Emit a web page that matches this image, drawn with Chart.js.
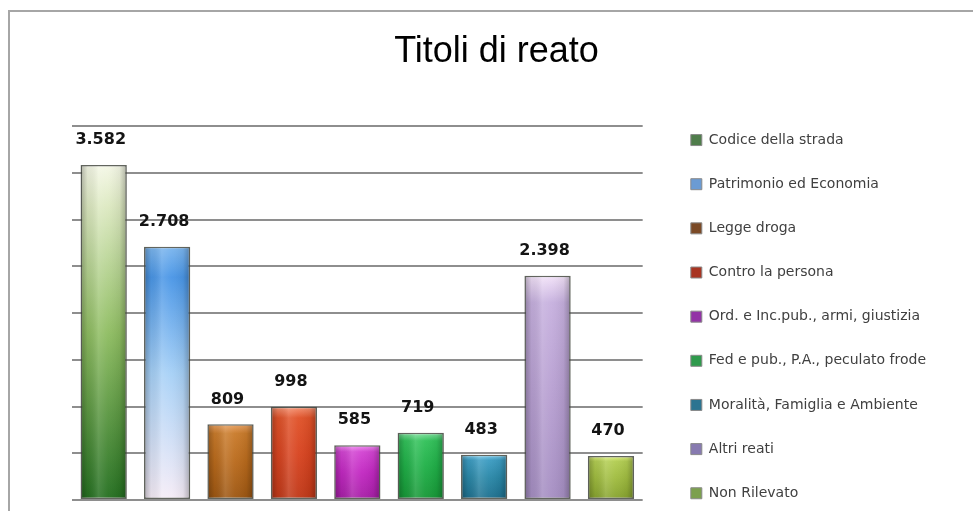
<!DOCTYPE html>
<html>
<head>
<meta charset="utf-8">
<script src="https://cdn.jsdelivr.net/npm/chart.js@4.4.1/dist/chart.umd.min.js"></script>
<style>
html,body{margin:0;padding:0;background:#fff;overflow:hidden;}
#wrap{position:relative;width:973px;height:511px;overflow:hidden;background:#fff;}
#c{position:absolute;left:0;top:0;}
#frame{position:absolute;left:8px;top:10px;width:1200px;height:900px;border-left:2px solid #a6a6a6;border-top:2px solid #a6a6a6;pointer-events:none;}
</style>
</head>
<body>
<div id="wrap"><canvas id="c" width="973" height="511"></canvas><div id="frame"></div></div>
<script>
// ---- data ----
const chartTitle = "Titoli di reato";
const categories = [
  "Codice della strada",
  "Patrimonio ed Economia",
  "Legge droga",
  "Contro la persona",
  "Ord. e Inc.pub., armi, giustizia",
  "Fed e pub., P.A., peculato frode",
  "Moralità, Famiglia e Ambiente",
  "Altri reati",
  "Non Rilevato"
];
const values = [3582, 2708, 809, 998, 585, 719, 483, 2398, 470];
const yMin = 0;
const yMax = 4000;
const yStep = 500;

// ---- styles ----
const barStops = [0, 0.12, 0.5, 1];
const barGradients = [
  ["#f4f7e6", "#dde9c2", "#8fbd62", "#246f20"],
  ["#7cb6ee", "#4a96e6", "#a6d0f6", "#f6ecf6"],
  ["#e9a263", "#c97b2b", "#b96a1c", "#9c5612"],
  ["#f59272", "#e05229", "#d84420", "#bf3818"],
  ["#f08ef0", "#d244d2", "#c228c2", "#a61fa6"],
  ["#84e2a2", "#32c15a", "#20b048", "#179737"],
  ["#82d0ef", "#3c9cc2", "#2a88a8", "#1e6f8e"],
  ["#f2e2f8", "#c6b0de", "#b8a0d2", "#a58ec2"],
  ["#e2f284", "#b2cd52", "#a0bc40", "#86a22e"]
];
const legendColors = ["#4f7d4b", "#6b9bd3", "#7b4a26", "#a83422", "#9333a6", "#2f9a4c", "#2c7491", "#877ab0", "#7ca04e"];

function fmt(v) {
  return String(v).replace(/\B(?=(\d{3})+(?!\d))/g, ".");
}

const barShade = {
  id: "barShade",
  afterDatasetsDraw(chart) {
    const ctx = chart.ctx;
    const meta = chart.getDatasetMeta(0);
    ctx.save();
    meta.data.forEach((bar) => {
      const left = bar.x - bar.width / 2 + 1;
      const right = bar.x + bar.width / 2 - 1;
      const g = ctx.createLinearGradient(left, 0, right, 0);
      g.addColorStop(0, "rgba(0,0,0,0.25)");
      g.addColorStop(0.14, "rgba(0,0,0,0.06)");
      g.addColorStop(0.38, "rgba(255,255,255,0.14)");
      g.addColorStop(0.6, "rgba(255,255,255,0.04)");
      g.addColorStop(0.86, "rgba(0,0,0,0.06)");
      g.addColorStop(1, "rgba(0,0,0,0.25)");
      ctx.fillStyle = g;
      ctx.fillRect(left, bar.y + 1, right - left, bar.base - bar.y - 2);
    });
    ctx.restore();
  }
};

const valueLabels = {
  id: "valueLabels",
  afterDatasetsDraw(chart) {
    const ctx = chart.ctx;
    const meta = chart.getDatasetMeta(0);
    ctx.save();
    ctx.font = 'bold 16px "DejaVu Sans"';
    ctx.fillStyle = "#141414";
    ctx.textAlign = "center";
    ctx.textBaseline = "middle";
    meta.data.forEach((bar, i) => {
      ctx.fillText(fmt(chart.data.datasets[0].data[i]), bar.x - 3, bar.y - 25);
    });
    ctx.restore();
  }
};

new Chart(document.getElementById("c"), {
  type: "bar",
  data: {
    labels: categories,
    datasets: [{
      data: values,
      backgroundColor: (context) => {
        const chart = context.chart;
        const i = context.dataIndex;
        const cols = barGradients[i];
        if (!chart.chartArea || context.type !== "data") return cols[2];
        const ys = chart.scales.y;
        const top = ys.getPixelForValue(context.raw);
        const bottom = ys.getPixelForValue(0);
        const g = chart.ctx.createLinearGradient(0, top, 0, bottom);
        barStops.forEach((s, k) => g.addColorStop(s, cols[k]));
        return g;
      },
      borderColor: "rgba(70,74,66,0.85)",
      borderWidth: 1.5,
      borderSkipped: false,
      barPercentage: 0.73,
      categoryPercentage: 1
    }]
  },
  options: {
    responsive: false,
    animation: false,
    layout: { padding: { left: 57, right: 37, top: 0, bottom: -40 } },
    scales: {
      x: {
        display: true,
        grid: { display: false },
        border: { display: false },
        ticks: { display: false },
        afterFit: (s) => { s.height = 51; }
      },
      y: {
        min: yMin,
        max: yMax,
        ticks: { display: false, stepSize: yStep },
        grid: { color: "#8e8e8e", lineWidth: 2, drawTicks: false },
        border: { display: false },
        afterFit: (s) => { s.width = 15; }
      },
      y2: {
        position: "right",
        display: true,
        grid: { display: false },
        border: { display: false },
        ticks: { display: false },
        afterFit: (s) => { s.width = 18; }
      }
    },
    plugins: {
      title: {
        display: true,
        text: chartTitle,
        color: "#000",
        font: { family: "Liberation Sans", size: 36, weight: "normal" },
        padding: { top: 30.4, bottom: 52.4 }
      },
      legend: {
        position: "right",
        align: "start",
        maxWidth: 420,
        onClick: () => {},
        title: { display: true, text: " ", font: { size: 10 }, padding: { top: 0, bottom: 90.9 } },
        labels: {
          boxWidth: 11,
          boxHeight: 11,
          padding: 30.15,
          color: "#404040",
          font: { family: "DejaVu Sans", size: 14 },
          generateLabels: () => categories.map((t, i) => ({
            text: t,
            fillStyle: legendColors[i],
            strokeStyle: "#8a8a8a",
            lineWidth: 1,
            fontColor: "#404040",
            hidden: false,
            index: i,
            datasetIndex: 0
          }))
        }
      },
      tooltip: { enabled: false }
    }
  },
  plugins: [barShade, valueLabels]
});
</script>
</body>
</html>
